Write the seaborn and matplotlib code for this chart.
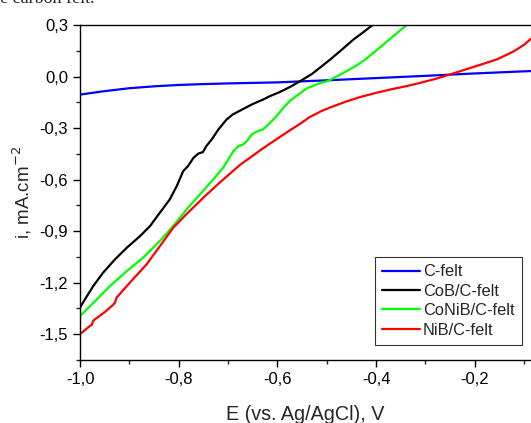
import matplotlib
matplotlib.use('Agg')
import matplotlib.pyplot as plt
import numpy             as np
import pandas            as pd
import seaborn           as sns
from matplotlib.ticker import MultipleLocator, FuncFormatter

# ---------------- data ----------------
E_cfelt = [-1.0, -0.95, -0.9, -0.85, -0.8, -0.75, -0.7, -0.65, -0.6, -0.5, -0.4, -0.3, -0.2, -0.086]
i_cfelt = [-0.105, -0.085, -0.068, -0.057, -0.049, -0.044, -0.040, -0.037, -0.034, -0.022,
           -0.009, 0.004, 0.018, 0.032]

E_cob = [-1.0, -0.990, -0.973, -0.953, -0.929, -0.905, -0.878, -0.858, -0.838, -0.818,
         -0.804, -0.791, -0.781, -0.770, -0.760, -0.751, -0.744, -0.733, -0.720, -0.703,
         -0.690, -0.670, -0.650, -0.629, -0.615, -0.595, -0.574, -0.554, -0.530, -0.510,
         -0.493, -0.470, -0.446, -0.425, -0.407]
i_cob = [-1.345, -1.297, -1.219, -1.141, -1.064, -0.996, -0.928, -0.870, -0.792, -0.715,
         -0.638, -0.551, -0.521, -0.473, -0.448, -0.440, -0.405, -0.366, -0.310, -0.250,
         -0.220, -0.190, -0.160, -0.134, -0.114, -0.090, -0.060, -0.027, 0.015, 0.060,
         0.099, 0.155, 0.215, 0.260, 0.300]

E_coniB = [-1.0, -0.966, -0.939, -0.905, -0.872, -0.838, -0.811, -0.784, -0.757, -0.730,
           -0.710, -0.689, -0.679, -0.669, -0.662, -0.652, -0.640, -0.629, -0.615, -0.600,
           -0.588, -0.574, -0.560, -0.541, -0.520, -0.497, -0.470, -0.439, -0.422, -0.392,
           -0.365, -0.338]
i_coniB = [-1.395, -1.297, -1.219, -1.132, -1.054, -0.957, -0.870, -0.773, -0.686, -0.599,
           -0.531, -0.434, -0.405, -0.395, -0.376, -0.337, -0.318, -0.308, -0.270, -0.225,
           -0.182, -0.140, -0.110, -0.070, -0.045, -0.025, 0.015, 0.065, 0.099, 0.170,
           0.235, 0.300]

E_nib = [-1.0, -0.990, -0.980, -0.976, -0.973, -0.950, -0.932, -0.929, -0.926, -0.899,
         -0.865, -0.838, -0.811, -0.784, -0.750, -0.716, -0.676, -0.635, -0.615, -0.595,
         -0.574, -0.554, -0.534, -0.510, -0.493, -0.460, -0.433, -0.400, -0.372, -0.340,
         -0.311, -0.280, -0.250, -0.220, -0.189, -0.155, -0.122, -0.100, -0.086]
i_nib = [-1.500, -1.475, -1.452, -1.445, -1.420, -1.372, -1.326, -1.316, -1.287, -1.200,
         -1.093, -0.987, -0.880, -0.800, -0.705, -0.615, -0.515, -0.430, -0.390, -0.352,
         -0.312, -0.275, -0.235, -0.200, -0.180, -0.145, -0.120, -0.095, -0.076, -0.057,
         -0.037, -0.014, 0.012, 0.040, 0.068, 0.100, 0.145, 0.185, 0.220]

labels = ['C-felt', 'CoB/C-felt', 'CoNiB/C-felt', 'NiB/C-felt']
colors = ['#0000ff', '#000000', '#00ff00', '#ff0000']
series = [(E_cfelt, i_cfelt), (E_cob, i_cob), (E_coniB, i_coniB), (E_nib, i_nib)]

# ---------------- figure ----------------
sns.set_style('ticks')
plt.rcParams['font.family'] = ['Liberation Sans', 'DejaVu Sans']

fig = plt.figure(figsize=(5.31, 4.23), dpi=100)
ax  = fig.add_axes([80/531, 1 - 360/423, 1 - 80/531, (360 - 25)/423])

for (E, i), lab, col in zip(series, labels, colors):
    df = pd.DataFrame({'E': E, 'i': i})
    sns.lineplot(data=df, x='E', y='i', sort=False, estimator=None,
                 color=col, linewidth=1.6, label=lab, ax=ax)

ax.set_xlim(-1.0, -0.086)
ax.set_ylim(-1.65, 0.3)

ax.xaxis.set_major_locator(MultipleLocator(0.2))
ax.xaxis.set_minor_locator(MultipleLocator(0.1))
ax.yaxis.set_major_locator(MultipleLocator(0.3))
ax.yaxis.set_minor_locator(MultipleLocator(0.15))

def comma(v, pos):
    if abs(v) < 1e-9:
        v = 0.0
    return f'{v:.1f}'.replace('.', ',')

ax.xaxis.set_major_formatter(FuncFormatter(comma))
ax.yaxis.set_major_formatter(FuncFormatter(comma))

ax.tick_params(which='major', direction='out', length=5, width=1, labelsize=12, colors='black')
ax.tick_params(which='minor', direction='out', length=3, width=1)
ax.tick_params(top=False, right=False)

for s in ['left', 'bottom', 'top']:
    ax.spines[s].set_linewidth(1.0)
    ax.spines[s].set_color('black')
ax.spines['right'].set_visible(False)

ax.set_xlabel('E (vs. Ag/AgCl), V', fontsize=14.2, labelpad=13)
ax.set_ylabel('i, mA.cm$^{-2}$', fontsize=13.5, labelpad=4)

leg = ax.legend(loc='lower right', bbox_to_anchor=(0.980, 0.045), borderaxespad=0,
                fontsize=11.8, frameon=True, fancybox=False, edgecolor='black',
                handlelength=2.3, handletextpad=0.2, labelspacing=0.27, borderpad=0.45)
leg.get_frame().set_linewidth(0.8)

# cropped caption text at the very top (cut off in the reference too)
fig.text(0.0, 1 - 3/423, 'e carbon felt.', va='baseline', ha='left',
         fontsize=13, family=['Liberation Serif', 'DejaVu Serif'])

fig.savefig('out.png', dpi=100)
